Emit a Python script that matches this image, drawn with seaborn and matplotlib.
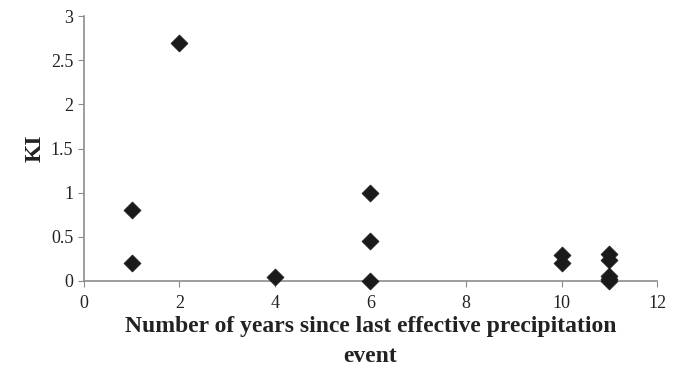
import matplotlib
matplotlib.use("Agg")
import matplotlib.pyplot as plt
import seaborn as sns
import pandas as pd

# anos desde o ultimo evento de precipitacao efetiva e valores de KI
anos = [1, 1, 2, 4, 6, 6, 6, 10, 10, 11, 11, 11, 11, 11]
ki = [0.80, 0.20, 2.69, 0.04, 1.00, 0.45, 0.00, 0.29, 0.20, 0.31, 0.24, 0.05, 0.02, 0.00]

xticks = [0, 2, 4, 6, 8, 10, 12]
yticks = [0, 0.5, 1, 1.5, 2, 2.5, 3]
yticklabels = ["0", "0.5", "1", "1.5", "2", "2.5", "3"]

df = pd.DataFrame({"anos": anos, "ki": ki})

sns.set_style("white")
plt.rcParams["font.family"] = ["Liberation Serif", "DejaVu Serif"]

fig = plt.figure(figsize=(6.81, 3.75), dpi=100)
ax = fig.add_axes([0.123, 0.251, 0.842, 0.706])

sns.scatterplot(
    data=df,
    x="anos",
    y="ki",
    marker="D",
    s=75,
    color="#1a1a1a",
    edgecolor="#1a1a1a",
    linewidth=0.5,
    ax=ax,
    zorder=3,
    clip_on=False
)

ax.set_xlim(0, 12)
ax.set_ylim(0, 3)
ax.set_xticks(xticks)
ax.set_yticks(yticks)
ax.set_yticklabels(yticklabels)

for s in ["top", "right"]:
    ax.spines[s].set_visible(False)
for s in ["left", "bottom"]:
    ax.spines[s].set_color("#8c8c8c")
    ax.spines[s].set_linewidth(1.2)

ax.tick_params(axis="both", direction="out", length=4, color="#8c8c8c",
               labelsize=13, labelcolor="#222222", bottom=True, left=True)
ax.tick_params(axis="x", pad=6)

ax.set_xlabel("Number of years since last effective precipitation\nevent",
              fontsize=17, fontweight="bold", color="#222222", labelpad=3,
              linespacing=1.55)
ax.set_ylabel("KI", fontsize=17, fontweight="bold", color="#222222", labelpad=4)

plt.savefig("out.png", dpi=100)
